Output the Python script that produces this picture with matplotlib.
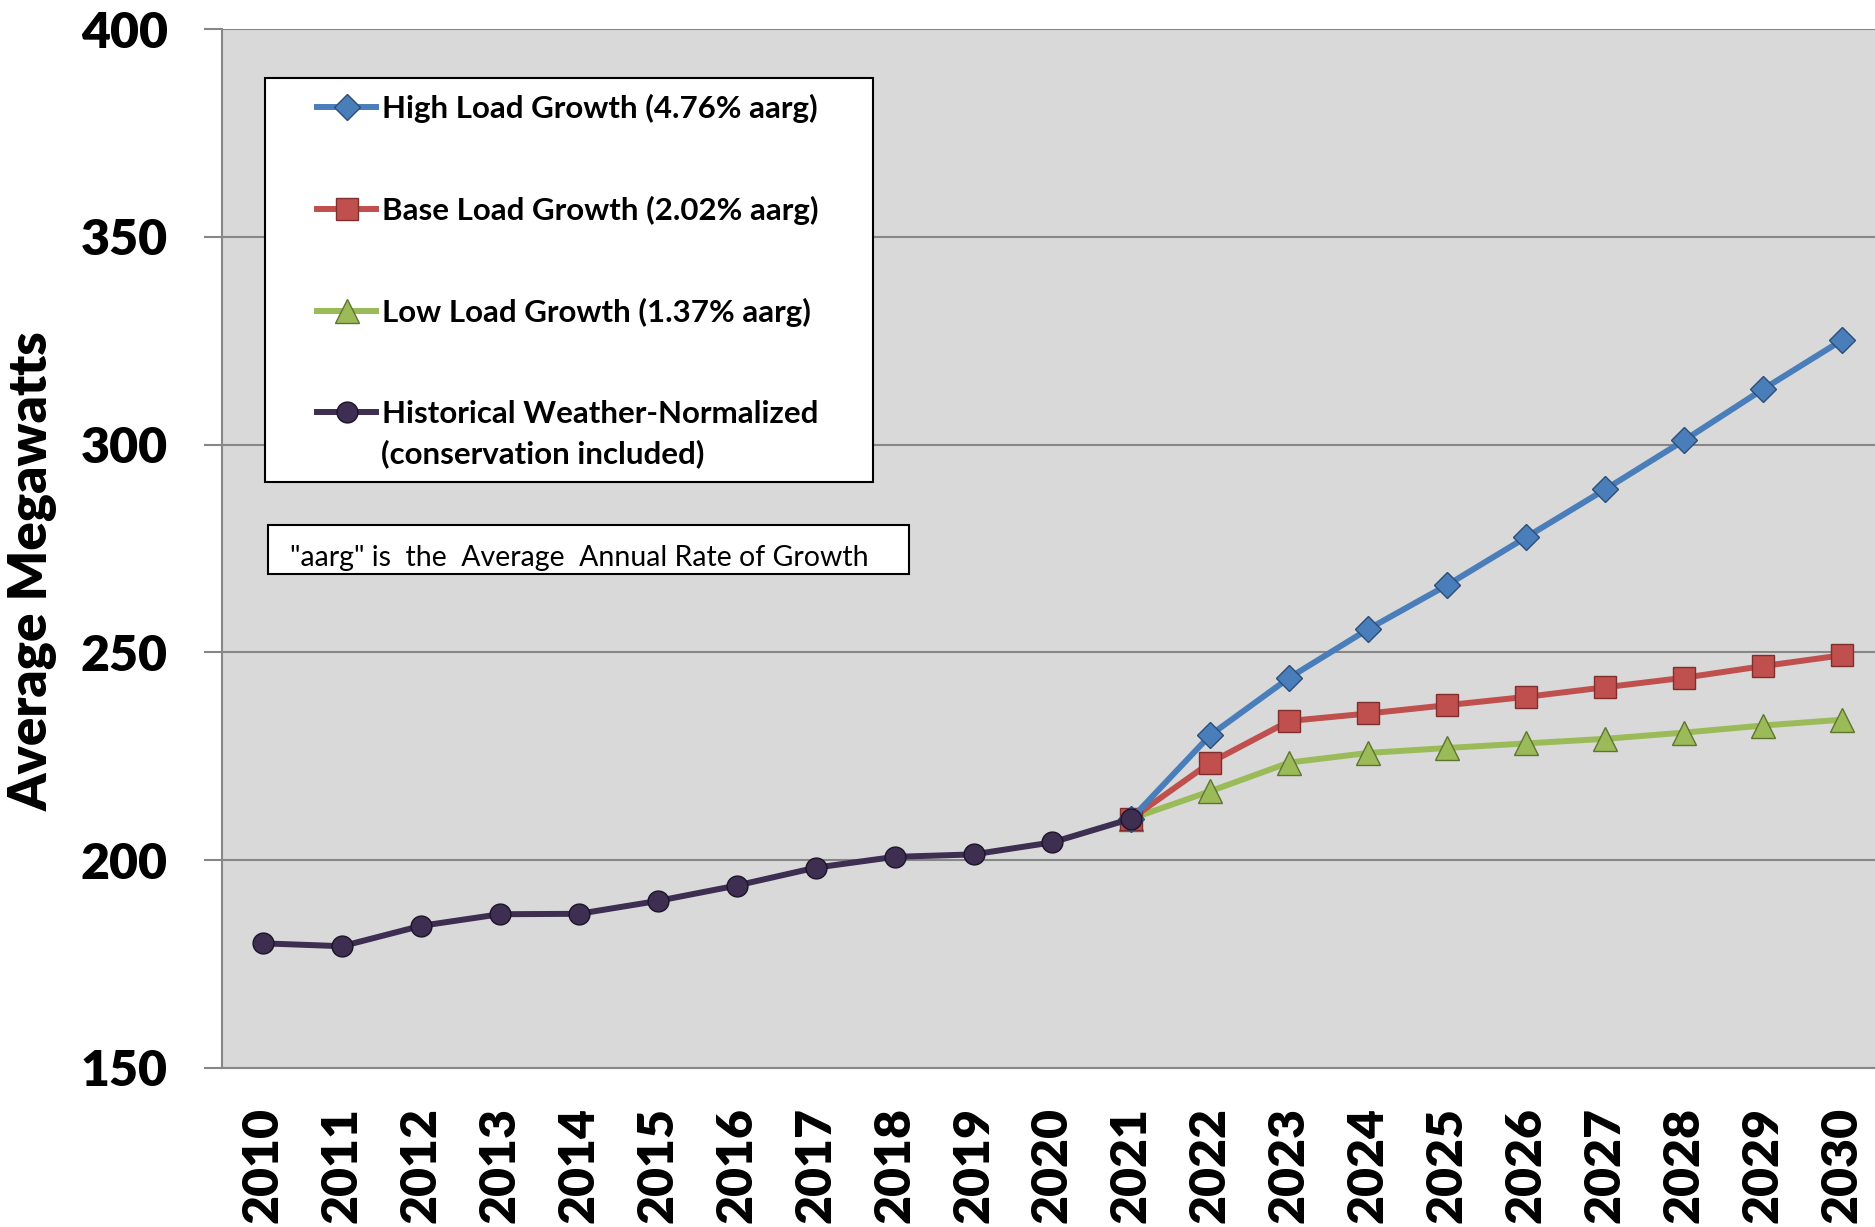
import matplotlib
matplotlib.use('Agg')
import matplotlib.pyplot as plt
from matplotlib.lines import Line2D
from matplotlib.patches import Rectangle

plt.rcParams['font.family'] = ['Lato', 'DejaVu Sans']

years_hist = [2010, 2011, 2012, 2013, 2014, 2015, 2016, 2017, 2018, 2019, 2020, 2021]
hist = [180.0, 179.3, 184.2, 187.0, 187.1, 190.2, 193.9, 198.2, 200.8, 201.4, 204.3, 210.0]

years_fc = [2021, 2022, 2023, 2024, 2025, 2026, 2027, 2028, 2029, 2030]
high = [210.0, 230.1, 243.9, 255.6, 266.2, 277.7, 289.2, 301.0, 313.3, 325.1]
base = [210.0, 223.5, 233.5, 235.3, 237.3, 239.3, 241.6, 243.9, 246.7, 249.3]
low = [210.0, 216.6, 223.5, 225.8, 227.0, 228.1, 229.2, 230.7, 232.4, 233.8]

labels = ['High Load Growth (4.76% aarg)',
          'Base Load Growth (2.02% aarg)',
          'Low Load Growth (1.37% aarg)',
          'Historical Weather-Normalized']
note = '"aarg" is  the  Average  Annual Rate of Growth'

c_high, e_high = '#4A7EBB', '#2C4D75'
c_base, e_base = '#C0504D', '#7F2F2D'
c_low, e_low = '#9BBB59', '#5E7530'
c_hist, e_hist = '#3D2E52', '#1C1428'
LW = 4.3

fig = plt.figure(figsize=(18.75, 12.27), dpi=100)
ax = fig.add_axes([222/1875, 1 - 1068/1227, 1 - 222/1875, (1068 - 29)/1227])
ax.set_facecolor('#D9D9D9')

ax.plot(years_fc, low, color=c_low, lw=LW, marker='^', ms=17,
        mfc=c_low, mec=e_low, mew=1, zorder=3)
ax.plot(years_fc, base, color=c_base, lw=LW, marker='s', ms=16,
        mfc=c_base, mec=e_base, mew=1, zorder=4)
ax.plot(years_fc, high, color=c_high, lw=LW, marker='D', ms=13,
        mfc=c_high, mec=e_high, mew=1, zorder=5)
ax.plot(years_hist, hist, color=c_hist, lw=LW, marker='o', ms=15,
        mfc=c_hist, mec=e_hist, mew=1, zorder=6)

ax.set_xlim(2009.48, 2030.42)
ax.set_ylim(150, 400)
ax.set_yticks([150, 200, 250, 300, 350, 400])
ax.set_xticks(years_hist[:-1] + years_fc)
ax.set_xticklabels([str(y) for y in years_hist[:-1] + years_fc], rotation=90,
                   fontsize=36, fontweight='heavy', va='top')
ax.set_yticklabels(['150', '200', '250', '300', '350', '400'],
                   fontsize=36, fontweight='heavy')
ax.tick_params(axis='x', length=0, pad=28)
ax.tick_params(axis='y', length=13, width=1.5, color='#878787', pad=26)
ax.grid(axis='y', color='#878787', lw=1.5, zorder=1)
ax.set_axisbelow(True)
for s in ['top', 'right']:
    ax.spines[s].set_visible(False)
for s in ['left', 'bottom']:
    ax.spines[s].set_color('#878787')
    ax.spines[s].set_linewidth(1.5)

fig.text(33/1875, 1 - 571/1227, 'Average Megawatts', rotation=90,
         fontsize=38, fontweight='heavy', ha='center', va='center')

# legend box and note box
ax.add_patch(Rectangle((0.026, 0.564), 0.3678, 0.3888, transform=ax.transAxes,
                       facecolor='white', edgecolor='black', lw=1.5, zorder=7))
handles = [
    Line2D([], [], color=c_high, lw=LW, marker='D', ms=13, mfc=c_high, mec=e_high),
    Line2D([], [], color=c_base, lw=LW, marker='s', ms=16, mfc=c_base, mec=e_base),
    Line2D([], [], color=c_low, lw=LW, marker='^', ms=17, mfc=c_low, mec=e_low),
    Line2D([], [], color=c_hist, lw=LW, marker='o', ms=15, mfc=c_hist, mec=e_hist),
]
leg = ax.legend(handles, labels, loc='upper left', bbox_to_anchor=(0.0575, 0.9375),
                frameon=False, borderpad=0, borderaxespad=0, handlelength=1.9,
                handletextpad=0.18, labelspacing=2.33, numpoints=1,
                prop={'family': ['Lato', 'DejaVu Sans'], 'weight': 'bold', 'size': 22.5})
leg.set_zorder(8)
ax.text(0.0962, 0.591, '(conservation included)', transform=ax.transAxes,
        fontsize=22.5, fontweight='bold', ha='left', va='center', zorder=9)

ax.add_patch(Rectangle((0.0278, 0.4755), 0.3878, 0.0472, transform=ax.transAxes,
                       facecolor='white', edgecolor='black', lw=1.5, zorder=7))
ax.text(0.0411, 0.483, note, transform=ax.transAxes, fontsize=20.5,
        ha='left', va='baseline', zorder=9)

fig.savefig('out.png', dpi=100)
